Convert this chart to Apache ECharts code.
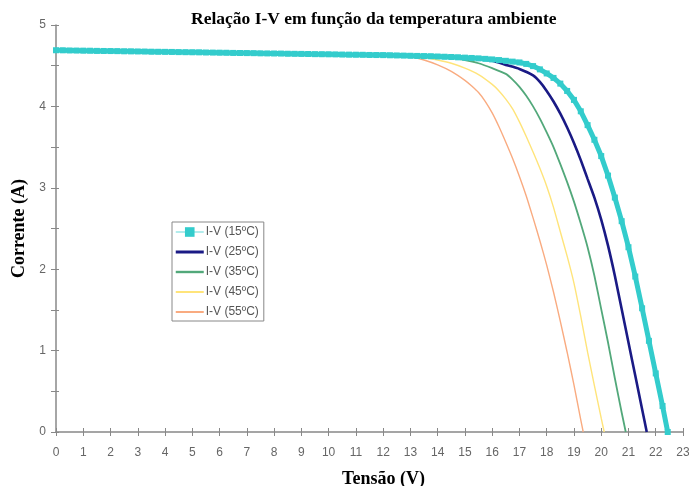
<!DOCTYPE html>
<html><head><meta charset="utf-8">
<script src="https://cdn.jsdelivr.net/npm/echarts@6/dist/echarts.min.js"></script>
<style>html,body{margin:0;padding:0;background:#fff}#c{width:689px;height:486px}</style>
</head><body><div id="c"></div>
<script>
const titulo = 'Relação I-V em função da temperatura ambiente';
const nomeX = 'Tensão (V)';
const nomeY = 'Corrente (A)';
const nomes = ['I-V (15ºC)', 'I-V (25ºC)', 'I-V (35ºC)', 'I-V (45ºC)', 'I-V (55ºC)'];

// 15 ºC (marked series) — voltage and current
const tensao15 = [0,0.25,0.5,0.75,1,1.25,1.5,1.75,2,2.25,2.5,2.75,3,3.25,3.5,3.75,4,4.25,4.5,4.75,5,5.25,5.5,5.75,6,6.25,6.5,6.75,7,7.25,7.5,7.75,8,8.25,8.5,8.75,9,9.25,9.5,9.75,10,10.25,10.5,10.75,11,11.25,11.5,11.75,12,12.25,12.5,12.75,13,13.25,13.5,13.75,14,14.25,14.5,14.75,15,15.25,15.5,15.75,16,16.25,16.5,16.75,17,17.25,17.5,17.75,18,18.25,18.5,18.75,19,19.25,19.5,19.75,20,20.25,20.5,20.75,21,21.25,21.5,21.75,22,22.25,22.44];
const corrente15 = [4.690,4.689,4.687,4.686,4.685,4.684,4.682,4.681,4.680,4.679,4.677,4.676,4.675,4.674,4.672,4.671,4.670,4.669,4.667,4.666,4.665,4.664,4.662,4.661,4.660,4.659,4.657,4.656,4.655,4.654,4.652,4.651,4.650,4.649,4.647,4.646,4.645,4.644,4.642,4.641,4.640,4.639,4.637,4.636,4.635,4.634,4.632,4.631,4.630,4.628,4.626,4.624,4.622,4.620,4.618,4.616,4.613,4.610,4.607,4.603,4.599,4.595,4.590,4.584,4.577,4.569,4.560,4.550,4.540,4.522,4.495,4.455,4.405,4.350,4.280,4.190,4.080,3.940,3.770,3.590,3.390,3.150,2.880,2.590,2.270,1.910,1.520,1.120,0.720,0.320,0];

const iv25 = [[0,4.69],[2,4.68],[4,4.67],[6,4.66],[8,4.65],[10,4.64],[12,4.63],[13,4.622],[14,4.613],[15,4.595],[15.5,4.585],[16,4.56],[16.5,4.51],[17,4.46],[17.5,4.38],[17.75,4.30],[18,4.19],[18.25,4.06],[18.5,3.91],[18.75,3.74],[19,3.55],[19.25,3.34],[19.5,3.11],[19.75,2.88],[20,2.61],[20.25,2.29],[20.5,1.92],[20.75,1.51],[21,1.10],[21.25,0.69],[21.5,0.28],[21.67,0]];
const iv35 = [[0,4.69],[2,4.68],[4,4.67],[6,4.66],[8,4.65],[10,4.64],[12,4.63],[13,4.622],[14,4.61],[14.5,4.595],[15,4.57],[15.5,4.53],[16,4.47],[16.5,4.40],[16.75,4.33],[17,4.24],[17.25,4.13],[17.5,4.0],[17.75,3.85],[18,3.68],[18.25,3.50],[18.5,3.29],[18.75,3.07],[19,2.83],[19.25,2.56],[19.5,2.27],[19.75,1.92],[20,1.51],[20.25,1.10],[20.5,0.66],[20.75,0.24],[20.9,0]];
const iv45 = [[0,4.69],[2,4.68],[4,4.67],[6,4.66],[8,4.65],[10,4.64],[12,4.63],[12.5,4.625],[13,4.615],[13.5,4.60],[14,4.57],[14.5,4.53],[15,4.47],[15.5,4.39],[16,4.27],[16.25,4.19],[16.5,4.09],[16.75,3.97],[17,3.81],[17.25,3.63],[17.5,3.44],[17.75,3.24],[18,3.02],[18.25,2.76],[18.5,2.46],[18.75,2.16],[19,1.83],[19.25,1.42],[19.5,0.98],[19.75,0.57],[20,0.17],[20.11,0]];
const iv55 = [[0,4.69],[2,4.68],[4,4.67],[6,4.66],[8,4.65],[10,4.64],[12,4.63],[12.5,4.625],[13,4.61],[13.5,4.57],[14,4.51],[14.5,4.43],[15,4.32],[15.25,4.25],[15.5,4.17],[15.75,4.06],[16,3.92],[16.25,3.75],[16.5,3.56],[16.75,3.36],[17,3.14],[17.25,2.90],[17.5,2.63],[17.75,2.35],[18,2.05],[18.25,1.72],[18.5,1.36],[18.75,0.98],[19,0.58],[19.25,0.15],[19.34,0]];

const iv15 = tensao15.map((v, i) => [v, corrente15[i]]);

const cores = ['#33cccc', '#1a1a85', '#52a87a', '#ffe47a', '#f9ab80'];
const larguras = [5, 2.6, 1.8, 1.4, 1.4];

const labelStyle = {color: '#666', fontSize: 12, fontFamily: 'Liberation Sans'};
const nameStyle = {color: '#000', fontSize: 18, fontWeight: 'bold', fontFamily: 'Liberation Serif'};

const chart = echarts.init(document.getElementById('c'), null, {renderer: 'canvas'});
chart.setOption({
  animation: false,
  backgroundColor: '#fff',
  title: {text: titulo, left: 186, top: 5, textStyle: {color: '#000', fontSize: 17.5, fontWeight: 'bold', fontFamily: 'Liberation Serif'}},
  grid: {left: 56, right: 6, top: 25, bottom: 54, containLabel: false, outerBoundsMode: 'none'},
  legend: {
    orient: 'vertical', left: 172, top: 222,
    borderColor: '#888', borderWidth: 1, padding: [4, 5, 3, 3],
    itemWidth: 28, itemHeight: 12, itemGap: 8,
    textStyle: {color: '#555', fontSize: 12, fontFamily: 'Liberation Sans', padding: [0, 0, 0, -3]},
    data: [
      {name: nomes[0], lineStyle: {width: 1.5, color: '#99e6e6'}, itemStyle: {color: '#33cccc'}},
      {name: nomes[1], icon: 'path://M0,0 L28,0 L28,3 L0,3 Z', itemStyle: {color: cores[1]}},
      {name: nomes[2], icon: 'path://M0,0 L28,0 L28,2.4 L0,2.4 Z', itemStyle: {color: cores[2]}},
      {name: nomes[3], icon: 'path://M0,0 L28,0 L28,2 L0,2 Z', itemStyle: {color: cores[3]}},
      {name: nomes[4], icon: 'path://M0,0 L28,0 L28,2 L0,2 Z', itemStyle: {color: cores[4]}}
    ]
  },
  xAxis: [
    {type: 'value', min: 0, max: 23, interval: 1, name: nomeX, nameLocation: 'middle', nameGap: 38,
     nameTextStyle: Object.assign({padding: [0, 0, 0, 28]}, nameStyle),
     axisLine: {show: true, lineStyle: {color: '#888', width: 1.5}}, axisTick: {show: true, length: 4, lineStyle: {color: '#888'}},
     axisLabel: Object.assign({margin: 15}, labelStyle), splitLine: {show: false}},
    {type: 'value', min: 0, max: 23, interval: 1, position: 'bottom', axisLine: {show: false},
     axisTick: {show: true, inside: true, length: 4, lineStyle: {color: '#888'}}, axisLabel: {show: false}, splitLine: {show: false}}
  ],
  yAxis: [
    {type: 'value', min: 0, max: 5, interval: 1, name: nomeY, nameLocation: 'middle', nameGap: 21, nameTextStyle: nameStyle,
     axisLine: {show: true, lineStyle: {color: '#888', width: 1.5}}, axisTick: {show: true, length: 5, lineStyle: {color: '#888'}},
     minorTick: {show: true, splitNumber: 2, length: 5, lineStyle: {color: '#888'}},
     axisLabel: Object.assign({margin: 10}, labelStyle), splitLine: {show: false}},
    {type: 'value', min: 0, max: 5, interval: 1, position: 'left', axisLine: {show: false},
     axisTick: {show: true, inside: true, length: 3, lineStyle: {color: '#888'}},
     minorTick: {show: true, splitNumber: 2, length: 3, lineStyle: {color: '#888'}},
     axisLabel: {show: false}, splitLine: {show: false}}
  ],
  series: [
    {name: nomes[4], type: 'line', data: iv55, smooth: 0.2, showSymbol: false, symbol: 'none', lineStyle: {color: cores[4], width: larguras[4]}, itemStyle: {color: cores[4]}},
    {name: nomes[3], type: 'line', data: iv45, smooth: 0.2, showSymbol: false, symbol: 'none', lineStyle: {color: cores[3], width: larguras[3]}, itemStyle: {color: cores[3]}},
    {name: nomes[2], type: 'line', data: iv35, smooth: 0.2, showSymbol: false, symbol: 'none', lineStyle: {color: cores[2], width: larguras[2]}, itemStyle: {color: cores[2]}},
    {name: nomes[1], type: 'line', data: iv25, smooth: 0.2, showSymbol: false, symbol: 'none', lineStyle: {color: cores[1], width: larguras[1]}, itemStyle: {color: cores[1]}},
    {name: nomes[0], type: 'line', data: iv15, symbol: 'rect', symbolSize: 6, showAllSymbol: true, lineStyle: {color: cores[0], width: larguras[0]}, itemStyle: {color: cores[0]}}
  ]
});
</script></body></html>
